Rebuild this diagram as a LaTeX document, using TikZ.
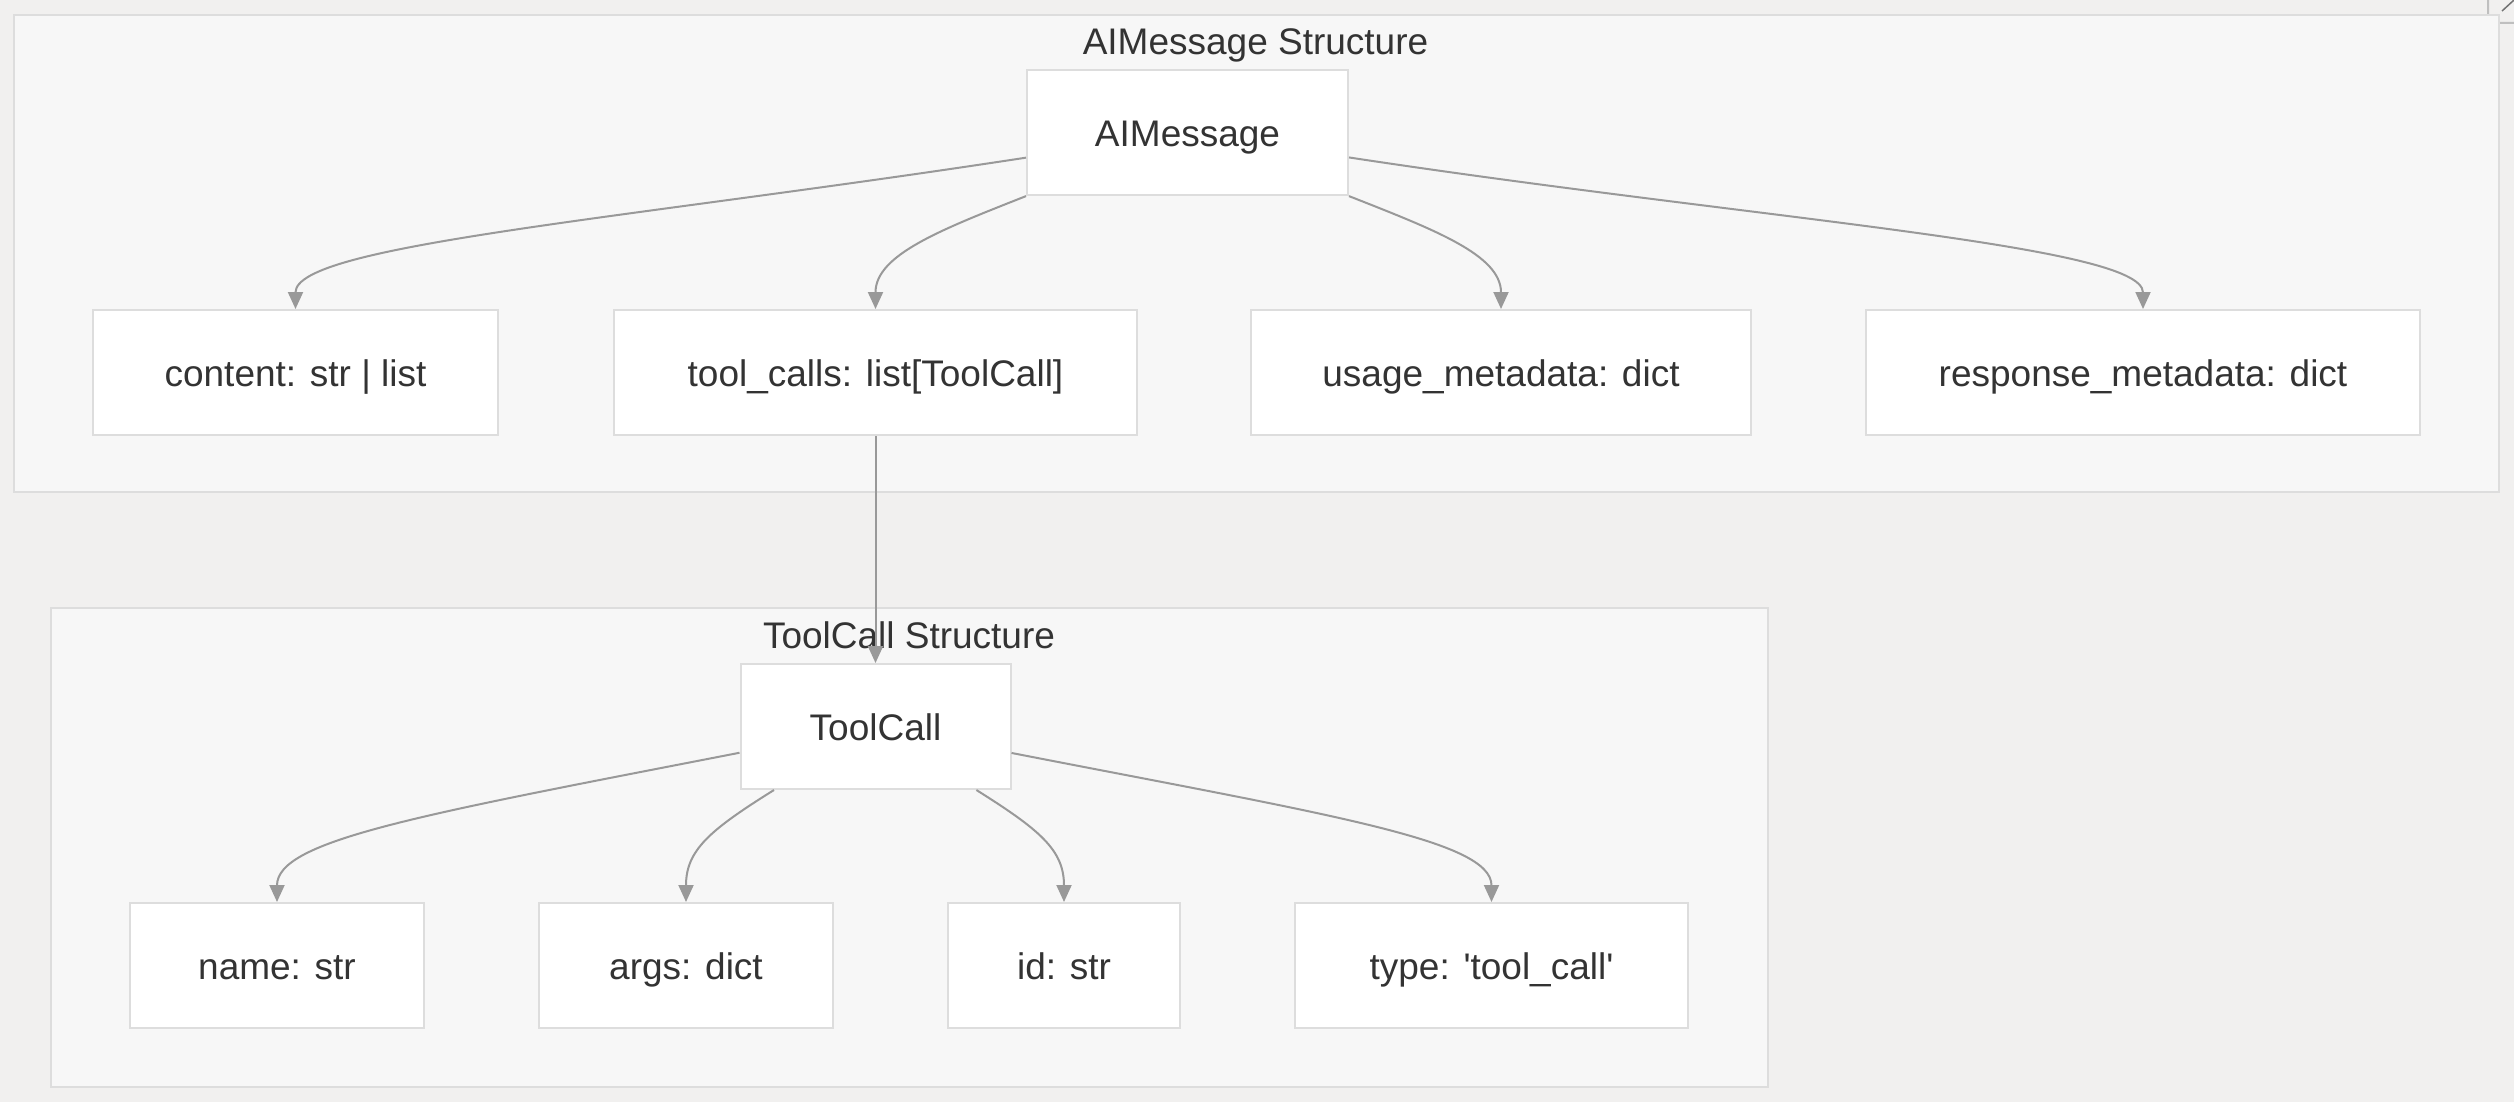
\documentclass[tikz,border=0pt]{standalone}
\usepackage{fontspec}
\setmainfont[Ligatures=ResetAll]{Liberation Sans}
\usetikzlibrary{arrows.meta}
\definecolor{bgc}{RGB}{241,240,239}
\definecolor{clfill}{RGB}{247,247,247}
\definecolor{bordc}{RGB}{221,221,221}
\definecolor{edgec}{RGB}{153,153,153}
\definecolor{txtc}{RGB}{51,51,51}
\begin{document}
\begin{tikzpicture}[x=1pt,y=-1pt,
  box/.style={draw=bordc, line width=2pt, fill=white, inner sep=0pt, text=txtc,
    font=\fontsize{37}{44}\selectfont, text height=28pt, text depth=0pt, minimum height=125pt},
  cluster/.style={draw=bordc, line width=2pt, fill=clfill, inner sep=0pt, anchor=north west},
  title/.style={text=txtc, font=\fontsize{37}{44}\selectfont, inner sep=0pt, anchor=base},
  edge/.style={draw=edgec, line width=2pt, -{Triangle[length=17pt,width=15pt]}}]
\useasboundingbox[fill=bgc] (0,0) rectangle (2514,1102);
% icon fragment at top right
\draw[draw=black!25, line width=2pt, rounded corners=6pt] (2488,-20) rectangle (2545,23);
\draw[draw=black!55, line width=1.5pt] (2502,11) -- (2514,0);
% clusters
\node[cluster, minimum width=2485pt, minimum height=477pt] (cl1) at (13,14) {};
\node[cluster, minimum width=1717pt, minimum height=479pt] (cl2) at (50,607) {};
\node[title] (t1) at (1255.5,55) {AIMessage Structure};
\node[title] (t2) at (909,648) {ToolCall Structure};
% nodes
\node[box, minimum width=321pt] (aim) at (1187.5,133) {AIMessage};
\node[box, minimum width=405pt] (content) at (295.5,372.5) {content: str | list};
\node[box, minimum width=523pt] (tc) at (875.5,372.5) {tool\_calls: list[ToolCall]};
\node[box, minimum width=500pt] (usage) at (1501,372.5) {usage\_metadata: dict};
\node[box, minimum width=554pt] (resp) at (2143,372.5) {response\_metadata: dict};
\node[box, minimum width=270pt] (toolcall) at (875.5,726.5) {ToolCall};
\node[box, minimum width=294pt] (name) at (277,965.5) {name: str};
\node[box, minimum width=294pt] (args) at (686,965.5) {args: dict};
\node[box, minimum width=232pt] (id) at (1064,965.5) {id: str};
\node[box, minimum width=393pt] (type) at (1491.5,965.5) {type: \textquotesingle tool\_call\textquotesingle};
% edges
\draw[edge] (aim) .. controls (620,220) and (295.5,245) .. (content);
\draw[edge] (aim) .. controls (940,230) and (875.5,255) .. (tc);
\draw[edge] (aim) .. controls (1435,230) and (1501,255) .. (usage);
\draw[edge] (aim) .. controls (1760,220) and (2143,245) .. (resp);
\draw[edge] (tc.south) -- (toolcall.north);
\draw[edge] (toolcall) .. controls (420,815) and (277,840) .. (name);
\draw[edge] (toolcall) .. controls (710,830) and (686,850) .. (args);
\draw[edge] (toolcall) .. controls (1040,830) and (1064,850) .. (id);
\draw[edge] (toolcall) .. controls (1330,815) and (1491.5,840) .. (type);
\end{tikzpicture}
\end{document}
